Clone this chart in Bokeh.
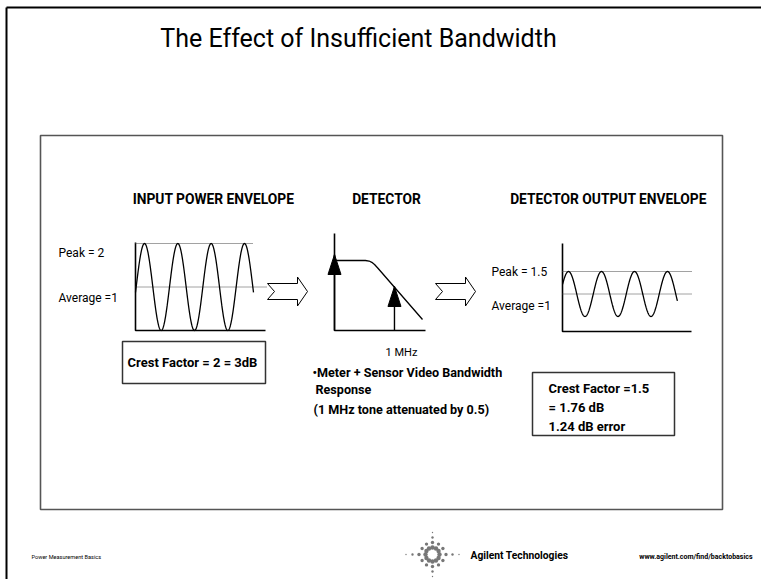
import numpy as np
from bokeh.plotting import figure
from bokeh.models import Range1d
from bokeh.core.properties import value
from bokeh.embed import file_html
from bokeh.resources import INLINE

# ---------------- data ----------------
slide_title = "The Effect of Insufficient Bandwidth"
section_titles = ["INPUT POWER ENVELOPE", "DETECTOR", "DETECTOR OUTPUT ENVELOPE"]

# input power envelope (relative power)
in_peak = 2.0
in_avg = 1.0
in_labels = ["Peak = 2", "Average =1"]
in_cycles = [-0.27, 3.27]          # shown portion, in periods from first peak

# detector output envelope (relative power)
out_peak = 1.5
out_avg = 1.0
out_labels = ["Peak = 1.5", "Average =1"]
out_cycles = [-0.18, 3.30]

# meter + sensor video bandwidth response (normalised frequency, relative gain)
det_freq = [0.0, 0.34, 0.38, 0.41, 0.44, 0.48, 0.967]
det_gain = [0.921, 0.921, 0.914, 0.897, 0.868, 0.816, 0.145]
tone_freq = [0.0, 0.659]
tone_amp = [1.0, 0.579]
tone_label = "1 MHz"

crest_in = ["Crest Factor = 2 = 3dB"]
crest_out = ["Crest Factor =1.5", "= 1.76 dB", "1.24 dB error"]
det_notes = ["\u2022Meter + Sensor Video Bandwidth", "Response",
             "(1 MHz tone attenuated by 0.5)"]
footer = ["Power Measurement Basics", "Agilent Technologies",
          "www.agilent.com/find/backtobasics"]

# ---------------- layout helpers ----------------
FONT = "Roboto"
W, H = 761, 579
X0, X1, Y0, Y1 = 0, W, 0, H   # page pixels covered by the plot frame


def panel_ranges(px_a, px_b, xa, xb, py_a, py_b, ya, yb):
    sx = (xb - xa) / (px_b - px_a)
    sy = (yb - ya) / (py_b - py_a)
    xr = Range1d(xa + (X0 - px_a) * sx, xa + (X1 - px_a) * sx)
    yr = Range1d(ya + (Y1 - py_a) * sy, ya + (Y0 - py_a) * sy)
    return xr, yr, (lambda px: xa + (px - px_a) * sx), sx, sy


p = figure(width=W, height=H, x_range=Range1d(X0, X1), y_range=Range1d(Y1, Y0),
           output_backend="svg", toolbar_location=None, min_border=0,
           x_axis_type=None, y_axis_type=None)
p.outline_line_color = None
p.background_fill_color = "white"
p.border_fill_color = "white"

xr1, yr1, fx1, _, _ = panel_ranges(144, 244, 0, 3, 330, 243, 0, in_peak)
xr3, yr3, fx3, _, _ = panel_ranges(568, 667, 0, 3, 316, 271,
                                   out_avg - (out_peak - out_avg), out_peak)
xrd, yrd, fxd, sxd, syd = panel_ranges(334, 425, 0, 1, 330, 254, 0, 1)
p.extra_x_ranges = {"p1x": xr1, "p3x": xr3, "dx": xrd}
p.extra_y_ranges = {"p1y": yr1, "p3y": yr3, "dy": yrd}


def txt(x, y, t, size, bold=False, align="left", color="black"):
    p.text(x=x, y=y, text=t, text_font=value(FONT), text_font_size=value(size),
           text_font_style="bold" if bold else "normal", text_align=align,
           text_baseline="middle", text_color=color)


# page frame
p.line([6, 761], [7, 7], line_color="black", line_width=2)
p.line([6, 6], [7, 579], line_color="black", line_width=2)
# inner frame
p.quad(left=40, right=722, top=135, bottom=509, fill_color=None,
       line_color="#555555", line_width=1.6)

# title + section headings
txt([358], [38], [slide_title], "25px", align="center")
txt([213, 386, 608], [198, 198, 198], section_titles, "13.8px", bold=True, align="center")

# ---------- input power envelope ----------
p.line([135, 135, 265], [242, 330, 330], line_color="black", line_width=1.6)
dot = dict(line_color="#444444", line_width=1, line_dash="1 1")
p.line([fx1(135), fx1(253)], [in_peak, in_peak], x_range_name="p1x", y_range_name="p1y", **dot)
p.line([fx1(135), fx1(266)], [in_avg, in_avg], x_range_name="p1x", y_range_name="p1y", **dot)
t1 = np.linspace(in_cycles[0], in_cycles[1], 400)
p.line(t1, in_avg + (in_peak - in_avg) * np.cos(2 * np.pi * t1),
       x_range_name="p1x", y_range_name="p1y", line_color="black", line_width=1.3)
txt([58, 58], [252, 297], in_labels, "12px")
p.quad(left=122, right=265, top=341, bottom=383, fill_color=None,
       line_color="#333333", line_width=1.5)
txt([192], [362], crest_in, "13px", bold=True, align="center")

# ---------- hollow arrows ----------
for x0 in (267, 435):
    c = 291
    p.patch([x0, x0 + 30, x0 + 30, x0 + 40, x0 + 30, x0 + 30, x0, x0 + 7],
            [c - 8, c - 8, c - 14.5, c, c + 14.5, c + 8, c + 8, c],
            fill_color="white", line_color="black", line_width=1)

# ---------- detector ----------
p.line([334, 334, 425], [233, 330, 330], line_color="black", line_width=1.6)
p.line(det_freq, det_gain, x_range_name="dx", y_range_name="dy",
       line_color="black", line_width=1.3)
p.segment(x0=tone_freq, y0=[0] * len(tone_freq), x1=tone_freq, y1=tone_amp,
          x_range_name="dx", y_range_name="dy", line_color="black", line_width=1.4)
hw, hh = 6.5 * sxd, -20 * syd
p.patches([[f - hw, f, f + hw] for f in tone_freq],
          [[a - hh, a, a - hh] for a in tone_amp],
          x_range_name="dx", y_range_name="dy", fill_color="black", line_color="black")
txt([401], [352], [tone_label], "11px", align="center")
txt([312, 315, 313], [372, 389, 409], det_notes, "12.6px", bold=True)

# ---------- detector output envelope ----------
p.line([562, 562, 691], [243, 331, 331], line_color="black", line_width=1.6)
p.line([fx3(562), fx3(691)], [out_peak, out_peak], x_range_name="p3x", y_range_name="p3y", **dot)
p.line([fx3(562), fx3(691)], [out_avg, out_avg], x_range_name="p3x", y_range_name="p3y", **dot)
t3 = np.linspace(out_cycles[0], out_cycles[1], 400)
p.line(t3, out_avg + (out_peak - out_avg) * np.cos(2 * np.pi * t3),
       x_range_name="p3x", y_range_name="p3y", line_color="black", line_width=1.3)
txt([491, 491], [271, 305], out_labels, "12px")
p.quad(left=532, right=674, top=372, bottom=435, fill_color=None,
       line_color="#333333", line_width=1.5)
txt([548, 548, 548], [388, 407, 426], crest_out, "13px", bold=True)

# ---------- footer ----------
txt([31], [556], [footer[0]], "5.6px")
txt([470], [555], [footer[1]], "10.3px", bold=True)
txt([752], [556], [footer[2]], "7px", bold=True, align="right")

# Agilent spark logo
cx, cy = 432, 554
lx, ly, ls = [], [], []
for k in range(12):
    ang = np.deg2rad(30 * k)
    horiz = k in (0, 6)
    vert = k in (3, 9)
    n = 4 if (horiz or vert) else 2
    step = 6.5 if horiz else 5
    for j in range(n):
        r = 7 + step * j
        lx.append(cx + r * np.cos(ang))
        ly.append(cy + r * np.sin(ang))
        ls.append(max(4.4 - 1.0 * j, 1.3))
p.scatter(lx, ly, size=ls, fill_color="#777777", line_color=None)

open("out.html", "w").write(file_html(p, INLINE))
